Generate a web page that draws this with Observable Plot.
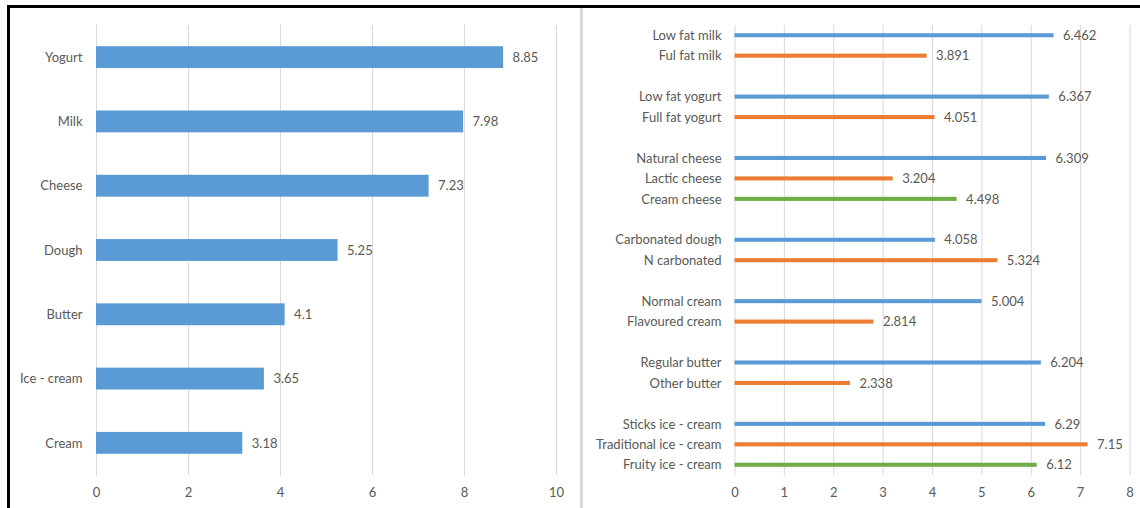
<!DOCTYPE html>
<html>
<head>
<meta charset="utf-8">
<script src="https://cdn.jsdelivr.net/npm/d3@7"></script>
<script src="https://cdn.jsdelivr.net/npm/@observablehq/plot@0.6"></script>
<style>
  html, body { margin: 0; padding: 0; background: #fff; }
  #wrap { position: relative; width: 1140px; height: 508px; overflow: hidden; background: #fff; }
  #left, #right { position: absolute; top: 0; }
  #left { left: 10px; }
  #right { left: 583px; }
  .border-top { position: absolute; left: 7px; top: 5px; width: 1133px; height: 3px; background: #000; }
  .border-left { position: absolute; left: 7px; top: 5px; width: 3px; height: 503px; background: #000; }
  .divider { position: absolute; left: 580px; top: 8px; width: 3px; height: 500px; background: #d9d9d9; }
</style>
</head>
<body>
<div id="wrap">
  <div id="left"></div>
  <div id="right"></div>
  <div class="border-top"></div>
  <div class="border-left"></div>
  <div class="divider"></div>
</div>
<script>
// ---- Left panel data ----
const leftCategories = ["Yogurt", "Milk", "Cheese", "Dough", "Butter", "Ice - cream", "Cream"];
const leftValues = [8.85, 7.98, 7.23, 5.25, 4.1, 3.65, 3.18];
const leftTicks = [0, 2, 4, 6, 8, 10];

// ---- Right panel data ----
const rightLabels = [
  "Low fat milk", "Ful fat milk",
  "Low fat yogurt", "Full fat yogurt",
  "Natural cheese", "Lactic cheese", "Cream cheese",
  "Carbonated dough", "N carbonated",
  "Normal cream", "Flavoured cream",
  "Regular butter", "Other butter",
  "Sticks ice - cream", "Traditional ice - cream", "Fruity ice - cream"
];
const rightValues = [6.462, 3.891, 6.367, 4.051, 6.309, 3.204, 4.498, 4.058, 5.324, 5.004, 2.814, 6.204, 2.338, 6.29, 7.15, 6.12];
const rightGroups = ["Milk", "Milk", "Yogurt", "Yogurt", "Cheese", "Cheese", "Cheese", "Dough", "Dough", "Cream", "Cream", "Butter", "Butter", "Ice - cream", "Ice - cream", "Ice - cream"];
const rightTicks = [0, 1, 2, 3, 4, 5, 6, 7, 8];
const seriesColors = ["#5B9BD5", "#ED7D31", "#70AD47"];

const font = {fontFamily: "Lato, 'Open Sans', sans-serif", fontSize: "13px", color: "#595959", background: "transparent", overflow: "visible"};

// Left chart
const leftData = leftCategories.map((c, i) => ({cat: c, v: leftValues[i]}));
const leftPlot = Plot.plot({
  width: 570,
  height: 508,
  marginLeft: 86,
  marginRight: 24,
  marginTop: 25,
  marginBottom: 33,
  style: font,
  x: {domain: [0, 10], ticks: leftTicks, tickSize: 0, tickPadding: 12, label: null},
  y: {domain: leftCategories, paddingInner: 0.66, paddingOuter: 0.33, round: false, tickSize: 0, tickPadding: 14, label: null},
  marks: [
    Plot.gridX(leftTicks, {stroke: "#d9d9d9", strokeOpacity: 1}),
    Plot.barX(leftData, {x: "v", y: "cat", fill: "#5B9BD5"}),
    Plot.text(leftData, {x: "v", y: "cat", text: d => String(d.v), textAnchor: "start", dx: 9, fill: "#595959"})
  ]
});
document.getElementById("left").appendChild(leftPlot);

// Right chart: build slot domain with blank gaps between groups
const rightData = [];
const rightDomain = [];
let prevGroup = null, posInGroup = 0, gapCount = 0;
rightLabels.forEach((lab, i) => {
  if (prevGroup !== null && rightGroups[i] !== prevGroup) {
    rightDomain.push("gap" + (gapCount++));
    posInGroup = 0;
  }
  rightDomain.push(lab);
  rightData.push({lab, v: rightValues[i], s: posInGroup});
  posInGroup++;
  prevGroup = rightGroups[i];
});

const rightPlot = Plot.plot({
  width: 557,
  height: 508,
  marginLeft: 151.5,
  marginRight: 10.5,
  marginTop: 25,
  marginBottom: 33,
  style: font,
  x: {domain: [0, 8], ticks: rightTicks, tickSize: 0, tickPadding: 12, label: null},
  y: {domain: rightDomain, paddingInner: 0.8, paddingOuter: 0.4, round: false, tickSize: 0, tickPadding: 13.5, label: null,
      tickFormat: d => d.startsWith("gap") ? "" : d},
  marks: [
    Plot.gridX(rightTicks, {stroke: "#d9d9d9", strokeOpacity: 1}),
    Plot.barX(rightData, {x: "v", y: "lab", fill: d => seriesColors[d.s]}),
    Plot.text(rightData, {x: "v", y: "lab", text: d => String(d.v), textAnchor: "start", dx: 9, fill: "#595959"})
  ]
});
document.getElementById("right").appendChild(rightPlot);
</script>
</body>
</html>
